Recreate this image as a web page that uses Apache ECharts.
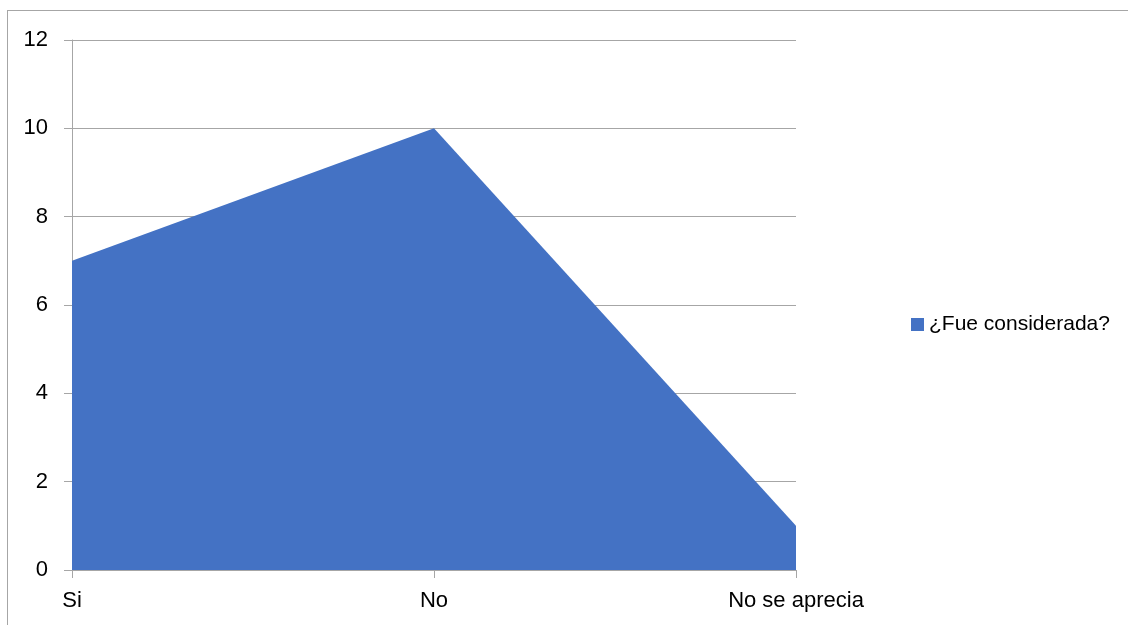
<!DOCTYPE html>
<html><head><meta charset="utf-8">
<script src="https://cdn.jsdelivr.net/npm/echarts@6/dist/echarts.min.js"></script>
<style>
html,body{margin:0;padding:0;background:#fff;overflow:hidden}
#frame{position:absolute;left:7px;top:10px;width:1200px;height:700px;border-left:1px solid #a6a6a6;border-top:1px solid #a6a6a6}
#c{position:absolute;left:0;top:0;width:1128px;height:625px}
</style></head>
<body>
<div id="frame"></div>
<div id="c"></div>
<script>
const categories = ["Si", "No", "No se aprecia"];
const seriesName = "¿Fue considerada?";
const values = [7, 10, 1];
const yTicks = { min: 0, max: 12, interval: 2 };

const font = '"Liberation Sans", Arial, sans-serif';

const chart = echarts.init(document.getElementById('c'), null, {renderer: 'canvas'});
chart.setOption({
  animation: false,
  backgroundColor: 'transparent',
  grid: { left: 72, right: 332, top: 40, bottom: 55, containLabel: false },
  legend: {
    data: [{ name: seriesName, icon: 'rect' }],
    orient: 'vertical', left: 906, top: 309,
    itemWidth: 13, itemHeight: 13, itemGap: 6,
    textStyle: { fontFamily: font, fontSize: 21, color: '#000' }
  },
  xAxis: {
    type: 'category', data: categories, boundaryGap: false,
    axisLine: { lineStyle: { color: '#a6a6a6', width: 1 } },
    axisTick: { show: true, length: 8, lineStyle: { color: '#a6a6a6' }, alignWithLabel: true },
    axisLabel: { fontFamily: font, fontSize: 22, color: '#000', margin: 20, interval: 0 },
    splitLine: { show: false }
  },
  yAxis: {
    type: 'value', min: yTicks.min, max: yTicks.max, interval: yTicks.interval,
    axisLine: { show: true, lineStyle: { color: '#a6a6a6', width: 1 } },
    axisTick: { show: true, length: 8, lineStyle: { color: '#a6a6a6' } },
    axisLabel: { fontFamily: font, fontSize: 22, color: '#000', margin: 24 },
    splitLine: { show: true, lineStyle: { color: '#a6a6a6', width: 1 } }
  },
  series: [{
    name: seriesName, type: 'line', data: values,
    symbol: 'none', lineStyle: { width: 0 },
    itemStyle: { color: '#4472C4' },
    areaStyle: { color: '#4472C4', opacity: 1 }
  }]
});
</script>
</body></html>
